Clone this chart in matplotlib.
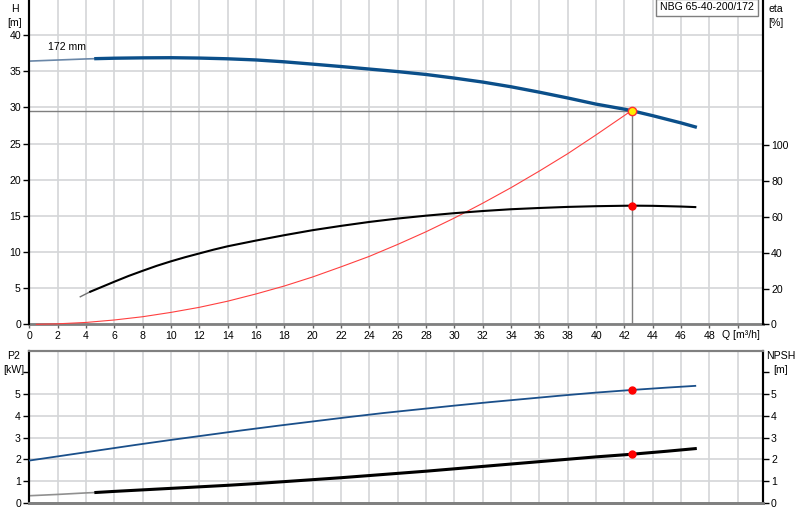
import matplotlib.pyplot as plt

plt.rcParams['font.family'] = ['Liberation Sans', 'DejaVu Sans']
plt.rcParams['font.size'] = 7.6

# pump curve H (172 mm impeller)
q_head = [0, 2, 4, 4.7, 6, 8, 10, 12, 14, 16, 18, 20, 22, 24, 26, 28, 30, 32, 34, 36,
          38, 40, 42, 42.5, 44, 46, 47]
head = [36.4, 36.55, 36.7, 36.74, 36.8, 36.85, 36.87, 36.82, 36.72, 36.56, 36.3, 35.98,
        35.65, 35.3, 34.95, 34.55, 34.05, 33.5, 32.85, 32.1, 31.3, 30.45, 29.75, 29.55,
        28.85, 27.85, 27.3]

# efficiency eta [%]
q_eta = [3.6, 4, 4.3, 5, 6, 7, 8, 9, 10, 11, 12, 13, 14, 15, 16, 18, 20, 22, 24, 26, 28, 30,
         32, 34, 36, 38, 40, 42.5, 44, 46, 47]
eta = [15.4, 17.0, 18.2, 20.5, 23.8, 27.0, 29.9, 32.7, 35.2, 37.5, 39.6, 41.7, 43.6, 45.2,
       46.8, 49.8, 52.6, 55.0, 57.2, 59.1, 60.7, 62.1, 63.3, 64.3, 65.0, 65.6, 66.0, 66.3,
       66.2, 65.8, 65.5]

# system curve (red)
q_sys = [0.5, 2, 4, 6, 8, 10, 12, 14, 16, 18, 20, 22, 24, 26, 28, 30, 32, 34, 36, 38, 40, 42.5]
h_sys = [0, 0.07, 0.26, 0.6, 1.05, 1.65, 2.35, 3.2, 4.2, 5.3, 6.55, 7.95, 9.4, 11.05,
         12.8, 14.7, 16.75, 18.9, 21.2, 23.6, 26.2, 29.55]

# lower panel: P2 [kW] and NPSH [m]
q_p2 = [0, 2, 4, 4.7, 6, 8, 10, 12, 14, 16, 18, 20, 22, 24, 26, 28, 30, 32, 34, 36, 38,
        40, 42.5, 45, 47]
p2 = [0.32, 0.38, 0.45, 0.47, 0.52, 0.59, 0.66, 0.73, 0.80, 0.88, 0.97, 1.06, 1.15, 1.25,
      1.35, 1.45, 1.56, 1.67, 1.78, 1.89, 2.0, 2.11, 2.23, 2.37, 2.49]
q_npsh = [0, 2.5, 5, 7.5, 10, 12.5, 15, 17.5, 20, 22.5, 25, 27.5, 30, 32.5, 35, 37.5, 40,
          42.5, 45, 47]
npsh = [1.94, 2.18, 2.42, 2.66, 2.89, 3.11, 3.33, 3.54, 3.74, 3.94, 4.13, 4.30, 4.47, 4.63,
        4.78, 4.93, 5.07, 5.19, 5.30, 5.38]

q_duty = 42.5
h_duty = 29.55
eta_duty = 66.3
p2_duty = 2.23
npsh_duty = 5.19

H_MAX = 44.85
ETA_FACTOR = 4.04
XMAX = 51.76

fig = plt.figure(figsize=(8, 5.2), dpi=100)
ax = fig.add_axes([0.0366, 0.3763, 0.9168, 0.6237])
ax2 = ax.twinx()
bx = fig.add_axes([0.0366, 0.0333, 0.9168, 0.2923])
bx2 = bx.twinx()

grid_c = "#d4d6d8"

# ---- top panel ----
ax.set_xlim(0, XMAX)
ax.set_ylim(0, H_MAX)
ax2.set_ylim(0, H_MAX * ETA_FACTOR)
ax.set_xticks(range(0, 51, 2))
ax.set_xticklabels([str(v) for v in range(0, 49, 2)] + [""])
ax.set_yticks(range(0, 41, 5))
ax2.set_yticks(range(0, 101, 20))
ax.grid(True, color=grid_c, lw=1.2)
ax.set_axisbelow(True)

ax.plot([0, q_duty], [h_duty, h_duty], color="#7f7f7f", lw=1, zorder=2)
ax.plot([q_duty, q_duty], [0, h_duty], color="#7f7f7f", lw=1, zorder=2)

ax.plot(q_sys, h_sys, color="#ff4040", lw=0.8, zorder=3, clip_on=False)

n = q_head.index(4.7)
ax.plot(q_head[:n + 1], head[:n + 1], color="#6a87a8", lw=1.2, zorder=4)
ax.plot(q_head[n:], head[n:], color="#0b4f8a", lw=2.4, zorder=4)

k = q_eta.index(4.3)
ax2.plot(q_eta[:k + 1], eta[:k + 1], color="#707070", lw=1.0, zorder=4)
ax2.plot(q_eta[k:], eta[k:], color="black", lw=1.5, zorder=4)
ax2.plot(q_duty, eta_duty, "o", color="red", ms=5, zorder=5)
ax.plot(q_duty, h_duty, "o", mfc="#ffee00", mec="#ff3030", ms=6, mew=1, zorder=6)

ax.text(1.3, 38.0, "172 mm")
fig.text(15 / 800, 1 - 4 / 520, "H\n[m]", ha="center", va="top", linespacing=1.5)
fig.text(776 / 800, 1 - 4 / 520, "eta\n[%]", ha="center", va="top", linespacing=1.5)
fig.text(14 / 800, 1 - 351 / 520, "P2\n[kW]", ha="center", va="top", linespacing=1.5)
fig.text(781 / 800, 1 - 351 / 520, "NPSH\n[m]", ha="center", va="top", linespacing=1.5)
fig.text(722 / 800, 1 - 335 / 520, "Q [m³/h]", ha="left", va="center")

ax.text(0.988, 0.993, "NBG 65-40-200/172", transform=ax.transAxes, ha="right", va="top",
        bbox=dict(boxstyle="square,pad=0.35", fc="white", ec="#7f7f7f", lw=1))

for a in (ax, ax2):
    a.spines["top"].set_visible(False)
    a.spines["left"].set_color("black")
    a.spines["right"].set_color("black")
    a.spines["left"].set_linewidth(1.5)
    a.spines["right"].set_linewidth(1.5)
ax.spines["bottom"].set_color("#808080")
ax.spines["bottom"].set_linewidth(2)
ax2.spines["bottom"].set_visible(False)
ax.tick_params(axis="x", length=3, width=1, color="#606060", pad=2)
ax.tick_params(axis="y", length=4, width=1, pad=2)
ax2.tick_params(axis="y", length=4, width=1, pad=2)

# ---- bottom panel ----
bx.set_xlim(0, XMAX)
bx.set_ylim(0, 7)
bx2.set_ylim(0, 7)
bx.set_xticks(range(0, 51, 2))
bx.set_xticklabels([])
bx.tick_params(axis="x", length=0)
for b in (bx, bx2):
    b.set_yticks(range(0, 7))
    b.set_yticklabels([str(v) for v in range(0, 6)] + [""])
    b.tick_params(axis="y", length=4, width=1, pad=2)
bx.grid(True, color=grid_c, lw=1.2)
bx.get_ygridlines()[6].set_visible(False)
bx.set_axisbelow(True)

m = q_p2.index(4.7)
bx.plot(q_p2[:m + 1], p2[:m + 1], color="#909090", lw=1.2, zorder=3)
bx.plot(q_p2[m:], p2[m:], color="black", lw=2.2, zorder=3)
bx2.plot(q_npsh, npsh, color="#1a4f8a", lw=1.3, zorder=3)
bx.plot(q_duty, p2_duty, "o", color="red", ms=5, zorder=5)
bx2.plot(q_duty, npsh_duty, "o", color="red", ms=5, zorder=5)

for b in (bx, bx2):
    b.spines["top"].set_color("#808080")
    b.spines["top"].set_linewidth(1.5)
    b.spines["bottom"].set_color("#808080")
    b.spines["bottom"].set_linewidth(2)
    b.spines["left"].set_linewidth(1.5)
    b.spines["right"].set_linewidth(1.5)

fig.savefig("out.png", dpi=100)
